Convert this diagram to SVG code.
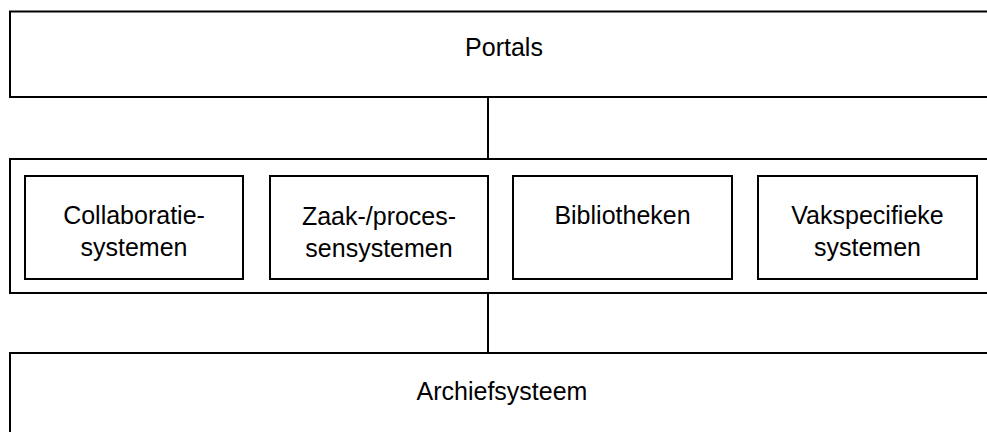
<svg xmlns="http://www.w3.org/2000/svg" width="987" height="432" viewBox="0 0 987 432">
<style>
.box{fill:#fff;stroke:#000;stroke-width:2}
.in{fill:#fff;stroke:#000;stroke-width:2}
.t{font-family:"Liberation Sans",Arial,sans-serif;font-size:25px;fill:#000;text-anchor:middle}
.c{stroke:#000;stroke-width:2;fill:none}
</style>
<g id="connectors">
<line class="c" x1="488" y1="97" x2="488" y2="159"/>
<line class="c" x1="488" y1="293" x2="488" y2="353"/>
</g>
<g id="portals">
<rect class="box" x="10" y="11.5" width="990" height="85.5"/>
<text class="t" x="504" y="56">Portals</text>
</g>
<g id="applicaties">
<rect class="box" x="10" y="159" width="990" height="134"/>
</g>
<g id="collaboratie">
<rect class="in" x="25" y="176" width="218" height="103"/>
<text class="t" x="134" y="224">Collaboratie-</text>
<text class="t" x="134" y="256">systemen</text>
</g>
<g id="zaak">
<rect class="in" x="270" y="176" width="218" height="103"/>
<text class="t" x="379" y="225">Zaak-/proces-</text>
<text class="t" x="379" y="257">sensystemen</text>
</g>
<g id="bibliotheken">
<rect class="in" x="513" y="176" width="219" height="103"/>
<text class="t" x="622.5" y="224">Bibliotheken</text>
</g>
<g id="vakspecifiek">
<rect class="in" x="758" y="176" width="219" height="103"/>
<text class="t" x="867.5" y="224">Vakspecifieke</text>
<text class="t" x="867.5" y="256">systemen</text>
</g>
<g id="archief">
<rect class="box" x="10" y="353" width="990" height="100"/>
<text class="t" x="502" y="400">Archiefsysteem</text>
</g>
</svg>
